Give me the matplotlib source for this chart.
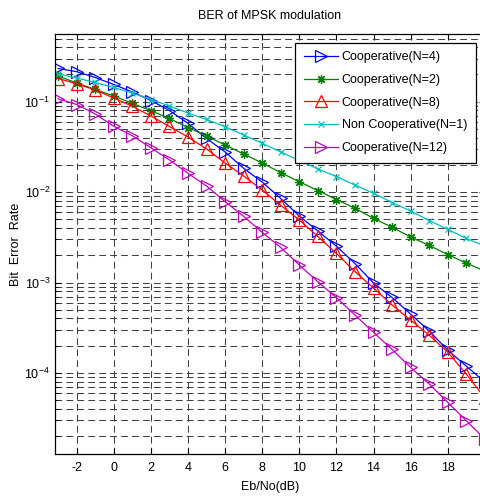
import matplotlib
matplotlib.use("Agg")
import matplotlib.pyplot as plt
import numpy as np

plt.rcParams['font.family'] = ['Liberation Sans', 'DejaVu Sans']
plt.rcParams['mathtext.default'] = 'regular'

ebno_db = [-3, -2, -1, 0, 1, 2, 3, 4, 5, 6, 7, 8, 9, 10, 11, 12, 13, 14, 15, 16, 17, 18, 19, 20]

ber_coop_n4 = [0.2330, 0.2147, 0.1852, 0.1550, 0.1280, 0.1031, 0.0799, 0.0577, 0.0392, 0.0278,
               0.01834, 0.01293, 0.00850, 0.00544, 0.00371, 0.00253, 0.00162, 0.000987,
               0.000683, 0.000448, 0.000291, 0.000179, 0.000119, 7.93e-5]
ber_coop_n2 = [0.1924, 0.1610, 0.1365, 0.1156, 0.0960, 0.0795, 0.0652, 0.0518, 0.0418, 0.0332,
               0.0264, 0.0210, 0.0164, 0.01303, 0.01041, 0.00828, 0.00662, 0.00513,
               0.00408, 0.00319, 0.00257, 0.00204, 0.00164, 0.00134]
ber_coop_n8 = [0.1805, 0.1581, 0.1347, 0.1099, 0.0890, 0.0695, 0.0532, 0.0407, 0.0300, 0.0210,
               0.01507, 0.01055, 0.00714, 0.00491, 0.00323, 0.00210, 0.00132, 0.000869,
               0.000564, 0.000385, 0.000262, 0.000170, 9.72e-5, 5.28e-5]
ber_noncoop_n1 = [0.2025, 0.1829, 0.1631, 0.1436, 0.1248, 0.1057, 0.0896, 0.0750, 0.0636, 0.0529,
                  0.0428, 0.0347, 0.0278, 0.0224, 0.0180, 0.01488, 0.01198, 0.00970,
                  0.00767, 0.00618, 0.00485, 0.00388, 0.00308, 0.00253]
ber_coop_n12 = [0.1077, 0.0931, 0.0731, 0.0534, 0.0420, 0.0309, 0.0227, 0.01614, 0.01168, 0.00783,
                0.00540, 0.00359, 0.00244, 0.00156, 0.00102, 0.000679, 0.000437, 0.000281,
                0.000182, 0.000115, 7.54e-5, 4.73e-5, 2.96e-5, 1.86e-5]

labels = ['Cooperative(N=4)', 'Cooperative(N=2)', 'Cooperative(N=8)',
          'Non Cooperative(N=1)', 'Cooperative(N=12)']
x_ticks = [-2, 0, 2, 4, 6, 8, 10, 12, 14, 16, 18]

W, H = 480, 497
fig = plt.figure(figsize=(W / 100, H / 100), dpi=100)
left, right, top, bottom = 55, 484.8, 34.3, 454
ax = fig.add_axes([left / W, (H - bottom) / H, (right - left) / W, (bottom - top) / H])

series = [
    (ber_coop_n4, dict(color='#0000ff', marker='>', ms=8, mfc='none', mew=0.9)),
    (ber_coop_n2, dict(color='#008000', marker=(8, 2, 0), ms=6.5, mew=0.9)),
    (ber_coop_n8, dict(color='#ff0000', marker='^', ms=8, mfc='none', mew=0.9)),
    (ber_noncoop_n1, dict(color='#00bfbf', marker='x', ms=4, mew=0.9)),
    (ber_coop_n12, dict(color='#bf00bf', marker='>', ms=8, mfc='none', mew=0.9)),
]
for (vals, st), lab in zip(series, labels):
    ax.semilogy(ebno_db, vals, lw=0.9, label=lab, **st)

ax.set_xlim(-3.17, 20)
ax.set_ylim(1.268e-5, 0.5566)
ax.set_xticks(x_ticks)
ax.set_xticklabels([str(t) for t in x_ticks])

gstyle = dict(color='0.25', linestyle=(0, (6.5, 4.0)), linewidth=0.75)
ax.grid(True, which='major', axis='both', **gstyle)
ax.grid(True, which='minor', axis='y', **gstyle)
ax.tick_params(which='both', direction='in', top=True, right=True, labelsize=9)
ax.tick_params(which='major', length=4)
ax.tick_params(which='minor', length=2.5)
ax.tick_params(axis='x', pad=6)
for s in ax.spines.values():
    s.set_linewidth(0.9)

ax.set_title('BER of MPSK modulation', fontsize=9, pad=11)
ax.set_xlabel('Eb/No(dB)', fontsize=9, labelpad=5)
ax.set_ylabel('Bit  Error  Rate', fontsize=9, labelpad=2)

leg = ax.legend(loc='upper left', bbox_to_anchor=(295 / W, 1 - 42.7 / H),
                bbox_transform=fig.transFigure, borderaxespad=0, fontsize=9,
                handlelength=2.75, handletextpad=0.3, borderpad=0.7, labelspacing=0.85,
                fancybox=False, framealpha=1, edgecolor='black', numpoints=1)
leg.get_frame().set_linewidth(0.9)

fig.savefig('out.png', dpi=100)
